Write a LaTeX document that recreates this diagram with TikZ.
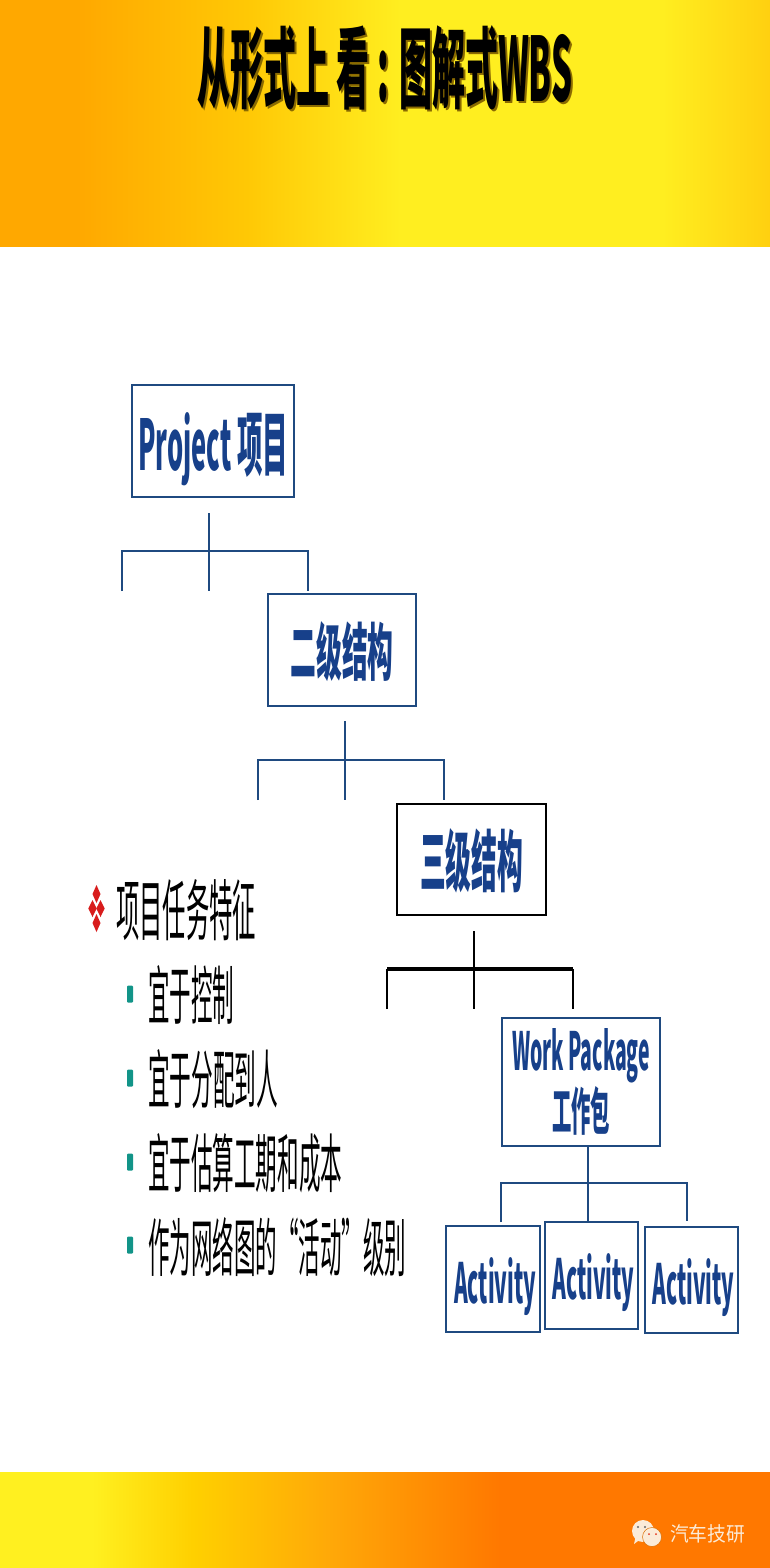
\documentclass[tikz,border=0pt]{standalone}
\usepackage{fontspec}
\usepackage{graphicx}
\newfontfamily\cjkr{Noto Sans CJK SC}
\newcommand{\cjkb}{\cjkr\bfseries}
\newcommand{\fitbox}[3]{\resizebox{#1pt}{#2pt}{#3}}
\newcommand{\dn}[2]{\raisebox{0pt}[\dimexpr\height+#1pt\relax]{#2}}
\definecolor{navy}{HTML}{1F4A80}
\definecolor{navytxt}{HTML}{17408A}
\definecolor{teal2}{HTML}{129488}
\definecolor{redb}{HTML}{D81C1C}
\definecolor{cream}{HTML}{FBEBD8}
\definecolor{shad}{HTML}{8A6A00}
\definecolor{HA}{HTML}{FFA800}\definecolor{HB}{HTML}{FFC805}\definecolor{HC}{HTML}{FFEE20}\definecolor{HD}{HTML}{FFD010}
\definecolor{FA}{HTML}{FFF020}\definecolor{FB}{HTML}{FFD000}\definecolor{FC}{HTML}{FFA808}\definecolor{FE}{HTML}{FF7800}
\pgfdeclarehorizontalshading{headshade}{100bp}{
 color(0bp)=(HA);color(30bp)=(HA);color(41bp)=(HB);color(51bp)=(HC);color(68bp)=(HC);color(75bp)=(HD);color(100bp)=(HD)}
\pgfdeclarehorizontalshading{footshade}{100bp}{
 color(0bp)=(FA);color(31bp)=(FA);color(37.5bp)=(FB);color(46.5bp)=(FC);color(57.5bp)=(FE);color(100bp)=(FE)}
\tikzset{
 wbsbox/.style={draw=navy,line width=2.1pt,fill=white,inner sep=0pt,anchor=north west,text=navytxt},
 blackbox/.style={wbsbox,draw=black,line width=2.4pt},
 conn/.style={draw=navy,line width=2pt,line cap=butt},
 connblack/.style={draw=black,line width=2pt},
 connthick/.style={draw=black,line width=3.6pt},
 txt/.style={inner sep=0pt,anchor=west,text=black},
 tick/.style={fill=teal2,rounded corners=1pt,minimum width=6pt,minimum height=17pt,inner sep=0pt},
 dia/.style={fill=redb}
}
\begin{document}
\begin{tikzpicture}[x=1pt,y=-1pt]
\useasboundingbox (0,0) rectangle (770,1568);
\fill[white] (0,0) rectangle (770,1568);
\shade[shading=headshade,shading angle=0] (0,0) rectangle (770,246);
\shade[shading=footshade,shading angle=0] (0,1472) rectangle (770,1568);
% title
\node[txt,text=shad,inner sep=0pt] at (199,70.5) {\fitbox{375}{76}{\cjkb 从形式上 看 : 图解式WBS}};
\node[txt] (title) at (197,68.5) {\fitbox{375}{76}{\cjkb 从形式上 看 : 图解式WBS}};
% boxes
\node[wbsbox,minimum width=162pt,minimum height=112pt] (proj) at (131,384) {\dn{17}{\fitbox{150}{58}{\cjkb Project 项目}}};
\node[wbsbox,minimum width=148pt,minimum height=112pt] (lvl2) at (267,593) {\dn{4}{\fitbox{103}{54}{\cjkb 二级结构}}};
\node[blackbox,minimum width=149pt,minimum height=111pt] (lvl3) at (396,803) {\dn{2}{\fitbox{103}{58}{\cjkb 三级结构}}};
\node[wbsbox,minimum width=158pt,minimum height=128pt,align=center] (wp) at (501,1017) {\fitbox{138}{42}{\cjkb Work Package}\\[3pt]\fitbox{58}{44}{\cjkb 工作包}};
\node[wbsbox,minimum width=94pt,minimum height=106pt] (a1) at (445,1225) {\dn{14}{\hspace{4pt}\fitbox{82}{46}{\cjkb Activity}}};
\node[wbsbox,minimum width=93pt,minimum height=107pt] (a2) at (544,1221) {\dn{14}{\hspace{4pt}\fitbox{82}{46}{\cjkb Activity}}};
\node[wbsbox,minimum width=93pt,minimum height=106pt] (a3) at (644,1226) {\dn{14}{\hspace{4pt}\fitbox{82}{46}{\cjkb Activity}}};
% connector 1
\coordinate (s1) at (209,513); \coordinate (j1) at (209,551);
\coordinate (l1) at (122,551); \coordinate (r1) at (308,551);
\coordinate (ld1) at (122,591); \coordinate (md1) at (209,591); \coordinate (rd1) at (308,591);
\draw[conn] (s1) -- (md1);
\draw[conn] (ld1) -- (l1) -- (r1) -- (rd1);
% connector 2
\coordinate (s2) at (345,721); \coordinate (l2) at (258,760); \coordinate (r2) at (444,760);
\coordinate (ld2) at (258,800); \coordinate (md2) at (345,800); \coordinate (rd2) at (444,800);
\draw[conn] (s2) -- (md2);
\draw[conn] (ld2) -- (l2) -- (r2) -- (rd2);
% connector 3
\coordinate (s3) at (474,931); \coordinate (l3) at (387,969); \coordinate (r3) at (573,969);
\coordinate (ld3) at (387,1009); \coordinate (md3) at (474,1009); \coordinate (rd3) at (573,1009);
\draw[connblack] (s3) -- (md3);
\draw[connblack] (ld3) -- (l3);
\draw[connblack] (r3) -- (rd3);
\draw[connthick] (l3) -- (r3);
% connector 4
\coordinate (s4) at (588,1147); \coordinate (l4) at (501,1183); \coordinate (r4) at (687,1183);
\coordinate (ld4) at (501,1222); \coordinate (rd4) at (687,1221);
\draw[conn] (wp.south -| s4) -- (a2.north -| s4);
\draw[conn,line width=2.4pt] (ld4) -- (l4) -- (r4) -- (rd4);
% bullets
\foreach \cx/\cy/\wx/\wy in {96.5/894/4/9,92.5/908.5/4.2/8.5,100.5/908.5/4.2/8.5,96.5/923/4/9}{
 \fill[dia] (\cx,\cy-\wy) -- (\cx+\wx,\cy) -- (\cx,\cy+\wy) -- (\cx-\wx,\cy) -- cycle;}
\node[txt] (h) at (116,910) {\fitbox{140}{56}{\cjkr 项目任务特征}};
\node[tick] (b1) at (130,994) {};
\node[txt] (t1) at (148,995) {\fitbox{86}{54}{\cjkr 宜于控制}};
\node[tick] (b2) at (130,1078) {};
\node[txt] (t2) at (148,1079) {\fitbox{130}{54}{\cjkr 宜于分配到人}};
\node[tick] (b3) at (130,1162) {};
\node[txt] (t3) at (148,1163) {\fitbox{194}{54}{\cjkr 宜于估算工期和成本}};
\node[tick] (b4) at (130,1245) {};
\node[txt] (t4) at (148,1247) {\fitbox{258}{54}{\cjkr 作为网络图的“活动”级别}};
% wechat mark
\fill[cream] (643,1531) ellipse (11 and 11);
\fill[cream] (638,1541) -- (634,1544) -- (636,1535) -- cycle;
\draw[orange!85!black,line width=0.5pt,fill=cream] (652,1537) ellipse (9.5 and 9.5);
\fill[black!60] (638,1527) circle (1.1) (645,1527) circle (1.1);
\fill[red!60!brown] (649,1534) circle (1) (656,1534) circle (1);
\node[txt,text=cream] (wm) at (670,1534) {\fitbox{75}{17}{\cjkr 汽车技研}};
\end{tikzpicture}
\end{document}
